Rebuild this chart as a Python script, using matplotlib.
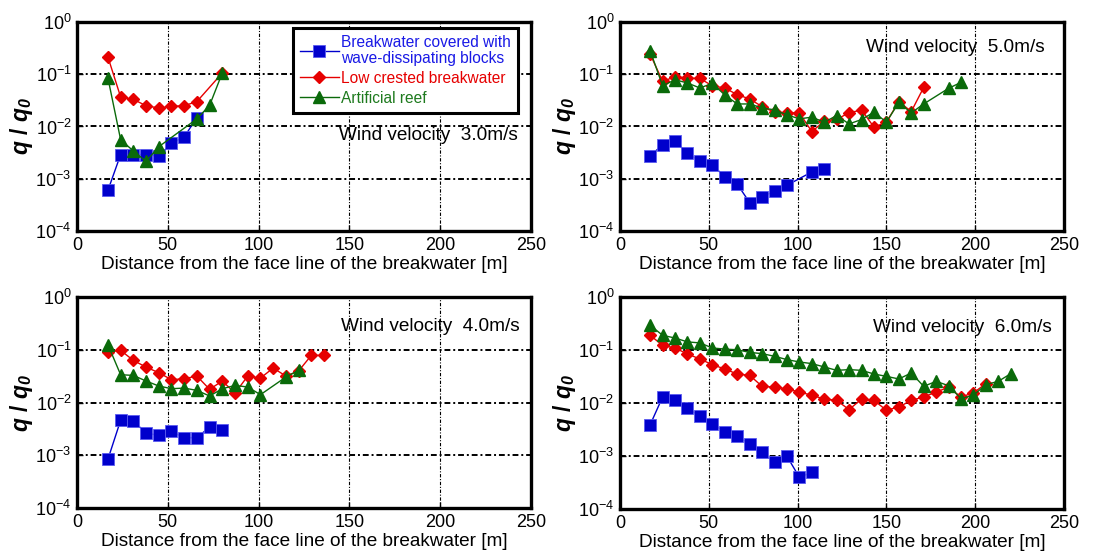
import matplotlib
matplotlib.use('Agg')
import matplotlib.pyplot as plt
from matplotlib.ticker import LogLocator, NullLocator

plt.rcParams['font.family'] = ['Liberation Sans', 'DejaVu Sans']
plt.rcParams['mathtext.fontset'] = 'custom'
plt.rcParams['mathtext.rm'] = 'Liberation Sans'
plt.rcParams['mathtext.it'] = 'Liberation Sans:italic'
plt.rcParams['mathtext.bf'] = 'Liberation Sans:bold'
plt.rcParams['mathtext.bfit'] = 'Liberation Sans:italic:bold'

# ---- data (distance [m], q/q0) ----
# wind 3.0 m/s
x_blk_3 = [17, 24, 31, 38, 45, 52, 59, 66]
y_blk_3 = [6.0e-4, 2.9e-3, 2.9e-3, 2.9e-3, 2.7e-3, 4.8e-3, 6.3e-3, 1.48e-2]
x_low_3 = [17, 24, 31, 38, 45, 52, 59, 66, 80]
y_low_3 = [0.214, 0.0367, 0.033, 0.025, 0.0226, 0.0243, 0.025, 0.030, 0.106]
x_reef_3 = [17, 24, 31, 38, 45, 66, 73, 80]
y_reef_3 = [0.085, 5.6e-3, 3.4e-3, 2.15e-3, 4.1e-3, 1.4e-2, 0.0254, 0.106]

# wind 5.0 m/s
x_blk_5 = [17, 24, 31, 38, 45, 52, 59, 66, 73, 80, 87, 94, 108, 115]
y_blk_5 = [2.72e-3, 4.5e-3, 5.2e-3, 3.1e-3, 2.15e-3, 1.86e-3, 1.08e-3, 7.9e-4,
           3.5e-4, 4.5e-4, 5.8e-4, 7.5e-4, 1.35e-3, 1.52e-3]
x_low_5 = [17, 24, 31, 38, 45, 52, 59, 66, 73, 80, 87, 94, 101, 108, 115, 122,
           129, 136, 143, 150, 157, 164, 171]
y_low_5 = [0.242, 0.073, 0.0896, 0.0845, 0.083, 0.060, 0.0546, 0.0407, 0.0337,
           0.024, 0.0188, 0.0182, 0.0182, 8.0e-3, 0.0126, 0.0138, 0.0182, 0.0208,
           9.7e-3, 0.0121, 0.030, 0.0193, 0.056]
x_reef_5 = [17, 24, 31, 38, 45, 52, 59, 66, 73, 80, 87, 94, 101, 108, 115, 122,
            129, 136, 143, 150, 157, 164, 171, 185, 192]
y_reef_5 = [0.281, 0.060, 0.0786, 0.0679, 0.0546, 0.0669, 0.0401, 0.027, 0.027,
            0.0227, 0.0208, 0.0167, 0.014, 0.0151, 0.0121, 0.0162, 0.0112, 0.0136,
            0.0188, 0.0121, 0.029, 0.0182, 0.027, 0.0537, 0.0699]

# wind 4.0 m/s
x_blk_4 = [17, 24, 31, 38, 45, 52, 59, 66, 73, 80]
y_blk_4 = [8.4e-4, 4.6e-3, 4.46e-3, 2.64e-3, 2.39e-3, 2.84e-3, 2.15e-3, 2.15e-3,
           3.43e-3, 3.05e-3]
x_low_4 = [17, 24, 31, 38, 45, 52, 59, 66, 73, 80, 87, 94, 101, 108, 115, 122,
           129, 136]
y_low_4 = [0.0906, 0.0975, 0.063, 0.047, 0.0368, 0.0271, 0.0283, 0.0318, 0.0178,
           0.0256, 0.0151, 0.0318, 0.0291, 0.0451, 0.0318, 0.0396, 0.0784, 0.0784]
x_reef_4 = [17, 24, 31, 38, 45, 52, 59, 66, 73, 80, 87, 94, 101, 115, 122]
y_reef_4 = [0.125, 0.0337, 0.0327, 0.0256, 0.0206, 0.0183, 0.0188, 0.017, 0.0133,
            0.0183, 0.0211, 0.0197, 0.0141, 0.0304, 0.0407]

# wind 6.0 m/s
x_blk_6 = [17, 24, 31, 38, 45, 52, 59, 66, 73, 80, 87, 94, 101, 108]
y_blk_6 = [3.9e-3, 0.013, 0.0112, 8.05e-3, 5.6e-3, 4.07e-3, 2.84e-3, 2.35e-3,
           1.71e-3, 1.17e-3, 7.6e-4, 9.9e-4, 3.96e-4, 4.9e-4]
x_low_6 = [17, 24, 31, 38, 45, 52, 59, 66, 73, 80, 87, 94, 101, 108, 115, 122,
           129, 136, 143, 150, 157, 164, 171, 178, 185, 192, 199, 206]
y_low_6 = [0.189, 0.122, 0.109, 0.084, 0.0676, 0.0528, 0.0438, 0.0352, 0.0333,
           0.0206, 0.020, 0.0184, 0.0161, 0.014, 0.0119, 0.0112, 7.5e-3, 0.0119,
           0.0112, 7.3e-3, 8.4e-3, 0.0112, 0.013, 0.0161, 0.0198, 0.013, 0.0155,
           0.0232]
x_reef_6 = [17, 24, 31, 38, 45, 52, 59, 66, 73, 80, 87, 94, 101, 108, 115, 122,
            129, 136, 143, 150, 157, 164, 171, 178, 185, 192, 199, 206, 213, 220]
y_reef_6 = [0.292, 0.189, 0.168, 0.142, 0.136, 0.109, 0.104, 0.101, 0.090, 0.0853,
            0.076, 0.0658, 0.0594, 0.0553, 0.0478, 0.0413, 0.0426, 0.0413, 0.0352,
            0.0318, 0.0284, 0.0368, 0.0206, 0.0256, 0.0212, 0.0121, 0.014, 0.0222,
            0.0256, 0.0357]

panels = [
    ('Wind velocity  3.0m/s', x_blk_3, y_blk_3, x_low_3, y_low_3, x_reef_3, y_reef_3),
    ('Wind velocity  5.0m/s', x_blk_5, y_blk_5, x_low_5, y_low_5, x_reef_5, y_reef_5),
    ('Wind velocity  4.0m/s', x_blk_4, y_blk_4, x_low_4, y_low_4, x_reef_4, y_reef_4),
    ('Wind velocity  6.0m/s', x_blk_6, y_blk_6, x_low_6, y_low_6, x_reef_6, y_reef_6),
]

# axes rectangles in figure fraction
rects = [
    [0.0703, 0.586, 0.4142, 0.3746],
    [0.5657, 0.586, 0.4051, 0.3746],
    [0.0703, 0.0896, 0.4142, 0.378],
    [0.5657, 0.0878, 0.4051, 0.38],
]
# wind text position (axes fraction, right aligned)
txtpos = [(0.971, 0.455), (0.956, 0.88), (0.976, 0.862), (0.972, 0.858)]

c_blue = '#0000CC'
c_red = '#E60000'
c_green = '#0A6A0A'
grid_dash = (0, (3, 1.5, 1, 1.5))

fig = plt.figure(figsize=(10.96, 5.58), dpi=100)
for k, (label, xb, yb, xl, yl, xr, yr) in enumerate(panels):
    ax = fig.add_axes(rects[k])
    ax.plot(xb, yb, '-s', color=c_blue, ms=8.5, mfc=c_blue, mec='#5A5AF0', mew=0.6, lw=1.0,
            label='Breakwater covered with\nwave-dissipating blocks')
    ax.plot(xl, yl, '-D', color=c_red, ms=6.3, mfc=c_red, mec=c_red, lw=1.0,
            label='Low crested breakwater')
    ax.plot(xr, yr, '-^', color=c_green, ms=8, mfc=c_green, mec=c_green, lw=1.0,
            label='Artificial reef')
    ax.set_yscale('log')
    ax.set_xlim(0, 250)
    ax.set_ylim(1e-4, 1)
    ax.set_xticks([0, 50, 100, 150, 200, 250])
    ax.yaxis.set_major_locator(LogLocator(base=10, numticks=10))
    ax.yaxis.set_minor_locator(NullLocator())
    ax.tick_params(direction='in', length=4, width=1, labelsize=13, pad=4)
    ax.grid(True, axis='x', color='black', ls=grid_dash, lw=0.8)
    ax.grid(True, axis='y', color='black', ls=grid_dash, lw=1.4)
    for sp in ax.spines.values():
        sp.set_linewidth(2.4)
    ax.set_xlabel('Distance from the face line of the breakwater [m]', fontsize=13.7, labelpad=2)
    ax.set_ylabel(r'$\mathbfit{q}$ $\mathbf{/}$ $\mathbfit{q}_{\mathbfit{0}}$', fontsize=16.5, labelpad=0)
    ax.text(txtpos[k][0], txtpos[k][1], label, transform=ax.transAxes,
            ha='right', va='center', fontsize=13.7)
    if k == 0:
        leg = ax.legend(loc='upper right', bbox_to_anchor=(0.971, 0.971), fontsize=11.2,
                        frameon=True, fancybox=False, framealpha=1, edgecolor='black',
                        handlelength=2.5, handletextpad=0.15, borderpad=0.45,
                        labelspacing=0.3, borderaxespad=0)
        leg.get_frame().set_linewidth(2.2)
        for t, c in zip(leg.get_texts(), ['#1A1AE6', c_red, '#1E7A1E']):
            t.set_color(c)
            t.set_linespacing(1.1)

fig.savefig('out.png', dpi=100)
